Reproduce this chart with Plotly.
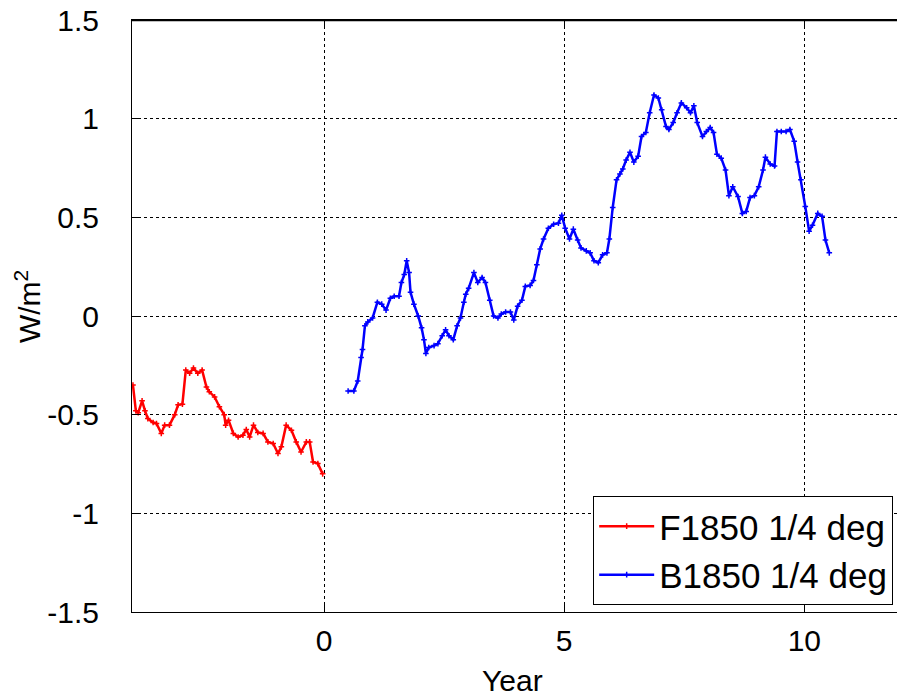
import plotly.graph_objects as go

# F1850 1/4 deg (red)
f_year = [-3.98, -3.92, -3.87, -3.79, -3.73, -3.67, -3.56, -3.49, -3.39, -3.32,
          -3.22, -3.11, -3.04, -2.95, -2.88, -2.80, -2.72, -2.63, -2.54, -2.45,
          -2.39, -2.28, -2.18, -2.08, -2.05, -1.99, -1.89, -1.79, -1.69, -1.62,
          -1.55, -1.47, -1.38, -1.27, -1.17, -1.06, -0.96, -0.89, -0.79, -0.68,
          -0.58, -0.48, -0.37, -0.30, -0.23, -0.13, -0.03]
f_val = [-0.35, -0.48, -0.49, -0.43, -0.48, -0.52, -0.54, -0.545, -0.595, -0.553,
         -0.553, -0.50, -0.45, -0.447, -0.274, -0.29, -0.264, -0.29, -0.274, -0.36,
         -0.384, -0.41, -0.46, -0.50, -0.553, -0.528, -0.595, -0.613, -0.604, -0.575,
         -0.613, -0.553, -0.59, -0.595, -0.638, -0.646, -0.697, -0.663, -0.553, -0.579,
         -0.638, -0.689, -0.638, -0.638, -0.74, -0.748, -0.80]

# B1850 1/4 deg (blue)
b_year = [0.50, 0.62, 0.70, 0.77, 0.80, 0.85, 0.91, 1.01, 1.11, 1.20,
          1.29, 1.38, 1.46, 1.56, 1.61, 1.67, 1.72, 1.77, 1.80, 1.87,
          1.96, 2.03, 2.08, 2.12, 2.18, 2.29, 2.37, 2.46, 2.53, 2.60,
          2.69, 2.77, 2.84, 2.91, 2.95, 3.01, 3.12, 3.20, 3.29, 3.36,
          3.45, 3.53, 3.62, 3.69, 3.78, 3.88, 3.95, 4.03, 4.12, 4.19,
          4.29, 4.36, 4.43, 4.50, 4.57, 4.67, 4.78, 4.88, 4.95, 5.02,
          5.11, 5.19, 5.28, 5.35, 5.46, 5.54, 5.62, 5.71, 5.80, 5.89,
          5.94, 6.01, 6.09, 6.16, 6.22, 6.29, 6.37, 6.45, 6.54, 6.61,
          6.70, 6.78, 6.87, 6.96, 7.03, 7.12, 7.18, 7.27, 7.35, 7.44,
          7.55, 7.63, 7.70, 7.77, 7.88, 7.96, 8.04, 8.11, 8.18, 8.27,
          8.36, 8.43, 8.51, 8.62, 8.71, 8.79, 8.87, 8.96, 9.05, 9.14,
          9.19, 9.29, 9.38, 9.43, 9.52, 9.62, 9.70, 9.79, 9.86, 9.93,
          10.02, 10.10, 10.17, 10.28, 10.37, 10.44, 10.52]
b_val = [-0.38, -0.38, -0.33, -0.21, -0.17, -0.05, -0.03, -0.01, 0.07, 0.06,
         0.03, 0.09, 0.10, 0.10, 0.17, 0.21, 0.28, 0.22, 0.12, 0.06,
         0.00, -0.06, -0.12, -0.19, -0.16, -0.15, -0.14, -0.10, -0.07, -0.10,
         -0.12, -0.05, -0.01, 0.07, 0.11, 0.14, 0.22, 0.17, 0.195, 0.17,
         0.08, 0.00, -0.01, 0.01, 0.02, 0.02, -0.02, 0.05, 0.08, 0.15,
         0.155, 0.18, 0.26, 0.34, 0.39, 0.445, 0.465, 0.47, 0.51, 0.445,
         0.39, 0.44, 0.385, 0.345, 0.33, 0.32, 0.28, 0.27, 0.31, 0.32,
         0.39, 0.55, 0.69, 0.72, 0.745, 0.79, 0.83, 0.78, 0.81, 0.91,
         0.93, 1.03, 1.12, 1.105, 1.045, 0.96, 0.945, 0.98, 1.03, 1.08,
         1.055, 1.03, 1.065, 0.98, 0.91, 0.935, 0.955, 0.93, 0.82, 0.80,
         0.74, 0.61, 0.655, 0.605, 0.52, 0.53, 0.60, 0.61, 0.655, 0.74,
         0.805, 0.77, 0.76, 0.935, 0.935, 0.935, 0.945, 0.885, 0.78, 0.69,
         0.555, 0.43, 0.46, 0.52, 0.505, 0.385, 0.32]

x_ticks = [-5, 0, 5, 10]
y_ticks = [-1.5, -1, -0.5, 0, 0.5, 1, 1.5]
y_tick_labels = ["-1.5", "-1", "-0.5", "0", "0.5", "1", "1.5"]

FONT = "Liberation Sans, Arial, Helvetica, sans-serif"

fig = go.Figure()
fig.add_trace(go.Scatter(
    x=f_year, y=f_val, mode="lines+markers", name="F1850 1/4 deg",
    line=dict(color="#ff0000", width=2.5),
    marker=dict(symbol="cross-thin", size=4, color="#ff0000",
                line=dict(color="#ff0000", width=1.5)),
))
fig.add_trace(go.Scatter(
    x=b_year, y=b_val, mode="lines+markers", name="B1850 1/4 deg",
    line=dict(color="#0000ff", width=2.5),
    marker=dict(symbol="cross-thin", size=4, color="#0000ff",
                line=dict(color="#0000ff", width=1.5)),
))

fig.update_layout(
    width=897, height=696,
    margin=dict(l=132, r=0, t=20, b=84),
    paper_bgcolor="white", plot_bgcolor="white",
    font=dict(family=FONT, size=30, color="black"),
    showlegend=True,
    legend=dict(
        x=0.995, y=0.012, xanchor="right", yanchor="bottom",
        bgcolor="white", bordercolor="black", borderwidth=1,
        font=dict(family=FONT, size=35, color="black"),
        itemwidth=55, tracegroupgap=0,
    ),
    annotations=[
        dict(text="Year", xref="paper", yref="paper", x=0.498, y=0,
             xanchor="center", yanchor="middle", yshift=-68, showarrow=False,
             font=dict(family=FONT, size=30, color="black")),
        dict(text="W/m<sup>2</sup>", xref="paper", yref="paper", x=0, y=0.515,
             xanchor="center", yanchor="middle", xshift=-104, textangle=-90,
             showarrow=False, font=dict(family=FONT, size=30, color="black")),
    ],
    shapes=[
        dict(type="line", xref="paper", yref="paper", x0=0, x1=1, y0=0.999, y1=0.999,
             line=dict(color="black", width=1.1), layer="above"),
    ],
)
fig.update_xaxes(
    range=[-4, 11.93], tickvals=x_ticks, ticks="inside", ticklen=7,
    tickcolor="black", showline=True, linecolor="black", linewidth=1,
    mirror="ticks", showgrid=True, gridcolor="black", griddash="dot",
    gridwidth=1, zeroline=False, ticklabelstandoff=2,
    tickfont=dict(family=FONT, size=30),
)
fig.update_yaxes(
    range=[-1.5, 1.5], tickvals=y_ticks, ticktext=y_tick_labels,
    ticks="inside", ticklen=7, tickcolor="black",
    showline=True, linecolor="black", linewidth=1, mirror=False,
    showgrid=True, gridcolor="black", griddash="dot", gridwidth=1,
    zeroline=False, ticklabelstandoff=26, ticklabeloverflow="allow",
    tickfont=dict(family=FONT, size=30),
)

fig.write_html(
    "out.html",
    config={"displayModeBar": False},
    post_script="document.body.style.margin='0';document.body.style.overflow='hidden';",
)
